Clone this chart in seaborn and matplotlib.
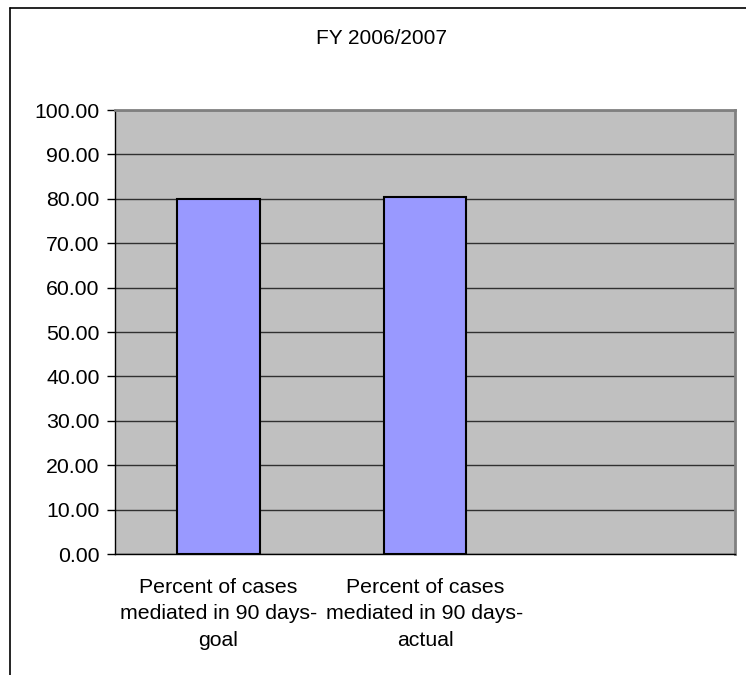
import matplotlib
matplotlib.use("Agg")
import matplotlib.pyplot as plt
import seaborn as sns
import pandas as pd
from matplotlib.lines import Line2D

categories = ["Percent of cases\nmediated in 90 days-\ngoal",
              "Percent of cases\nmediated in 90 days-\nactual"]
values = [80.0, 80.4]
title = "FY 2006/2007"
yticks = [0, 10, 20, 30, 40, 50, 60, 70, 80, 90, 100]

sns.set_style("white")
plt.rcParams['font.family'] = ['Liberation Sans', 'DejaVu Sans']
plt.rcParams['text.color'] = 'black'
plt.rcParams['xtick.color'] = 'black'
plt.rcParams['ytick.color'] = 'black'

df = pd.DataFrame({"cat": categories, "val": values})

W, H = 746, 675
fig = plt.figure(figsize=(W / 100, H / 100), dpi=100)
ax = fig.add_axes([115 / W, 1 - 554 / H, (735 - 115) / W, (554 - 110) / H])
ax.set_facecolor("#C0C0C0")

sns.barplot(data=df, x="cat", y="val", ax=ax, color="#9999FF", width=0.4,
            edgecolor="black", linewidth=1.5, saturation=1, zorder=3)
ax.set_xlim(-0.5, 2.5)
ax.set_ylim(0, 100)
ax.set_yticks(yticks)
ax.set_yticklabels([f"{v:.2f}" for v in yticks], fontsize=15.3, color="black")
ax.yaxis.grid(True, color="#303030", linewidth=1.0, zorder=1)
ax.set_axisbelow(True)
ax.set_xlabel("")
ax.set_ylabel("")

ax.set_xticks([0, 1])
ax.set_xticklabels(categories, fontsize=15.3, linespacing=1.5, color="black")
ax.tick_params(axis="x", which="major", length=0, pad=17)
ax.set_xticks([-0.5, 0.5, 1.5, 2.5], minor=True)
ax.tick_params(axis="x", which="minor", length=6, width=1, color="black", direction="out")
ax.tick_params(axis="y", length=6, width=1, color="black", direction="out", pad=5, left=True)

for side in ["top", "right"]:
    ax.spines[side].set_visible(True)
    ax.spines[side].set_color("#808080")
    ax.spines[side].set_linewidth(2)
for side in ["left", "bottom"]:
    ax.spines[side].set_visible(True)
    ax.spines[side].set_color("black")
    ax.spines[side].set_linewidth(1)

fig.text(382 / W, 1 - 39 / H, title, ha="center", va="center", fontsize=15, color="black")

fig.add_artist(Line2D([10 / W, 10 / W], [0, 1 - 8 / H], color="black", linewidth=1.2,
                      transform=fig.transFigure))
fig.add_artist(Line2D([10 / W, 1.01], [1 - 8 / H, 1 - 8 / H], color="black", linewidth=1.2,
                      transform=fig.transFigure))

fig.savefig("out.png", dpi=100, facecolor="white")
